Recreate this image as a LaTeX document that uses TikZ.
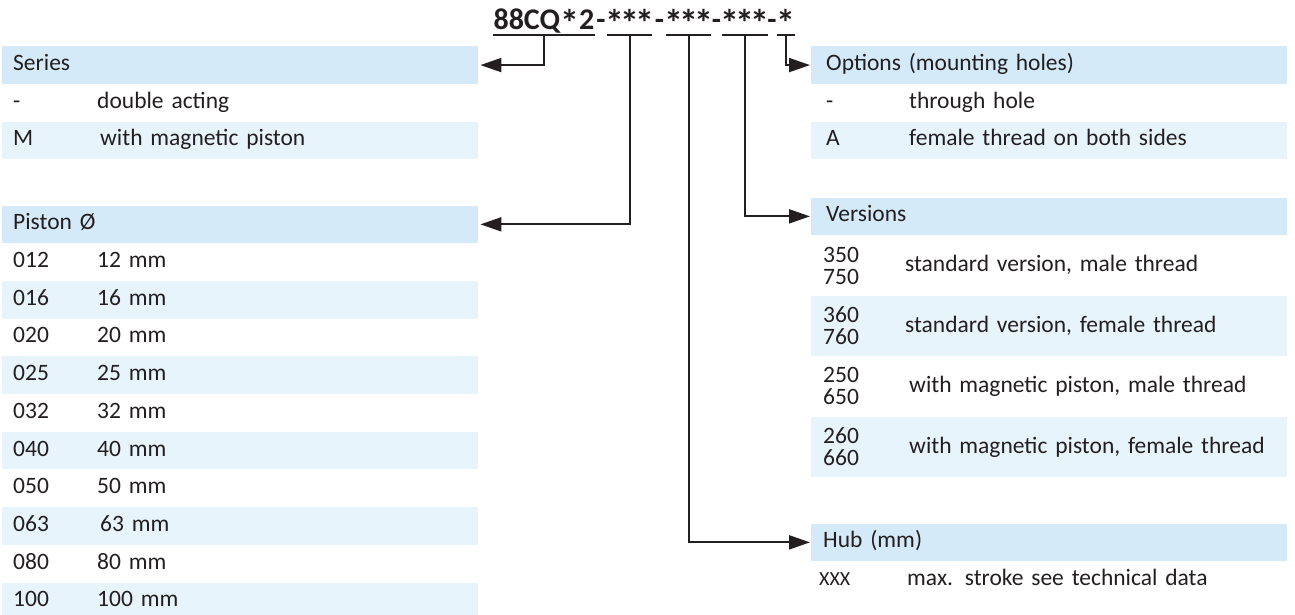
\documentclass[tikz,border=0pt]{standalone}
\usepackage{fontspec}
\setmainfont{Carlito}
\usetikzlibrary{arrows.meta,calc}
\definecolor{ink}{RGB}{35,31,32}
\definecolor{hdrblue}{RGB}{213,234,249}
\definecolor{rowblue}{RGB}{232,244,252}
\newcommand\sterngl{{\fontsize{38}{38}\selectfont\raisebox{-7pt}{*}}}
\newcommand\stern{\makebox[15pt]{\sterngl}}
\newcommand\bigstern{\makebox[19pt]{\sterngl}}
\begin{document}
\begin{tikzpicture}[x=1pt,y=-1pt,
  band/.style={rectangle, anchor=north west, minimum width=476pt, inner ysep=0pt,
    align=left, text=ink, font=\fontsize{23.5}{22}\selectfont},
  one/.style={minimum height=37.7pt, text height=16pt, text depth=5pt},
  lcell/.style={band, one, inner xsep=11pt, text width=454pt},
  rcell/.style={band, one, inner xsep=15pt, text width=446pt},
  vcell/.style={band, minimum height=60.5pt, inner xsep=12pt, text width=452pt},
  hdr/.style={fill=hdrblue},
  alt/.style={fill=rowblue},
  ttl/.style={inner sep=0pt, text=ink, font=\fontsize{30}{32}\selectfont\bfseries, text height=21pt, text depth=0pt},
  uline/.style={draw=ink, line width=2pt},
  conn/.style={draw=ink, line width=2pt, -{Triangle[length=21pt,width=14pt]}}
]
\useasboundingbox (0,0) rectangle (1295,614);
\clip (0,0) rectangle (1295,614);

% ---- title code ----
\node[ttl, anchor=base, minimum width=102pt] (t0) at (544,29) {88CQ\bigstern2};
\node[ttl, anchor=base] (d1) at (601,29) {-};
\node[ttl, anchor=base, minimum width=45pt] (t1) at (629.5,29) {\stern\stern\stern};
\node[ttl, anchor=base] (d2) at (659.5,29) {-};
\node[ttl, anchor=base, minimum width=43pt] (t2) at (688.5,29) {\stern\stern\stern};
\node[ttl, anchor=base] (d3) at (716.5,29) {-};
\node[ttl, anchor=base, minimum width=44pt] (t3) at (745,29) {\stern\stern\stern};
\node[ttl, anchor=base] (d4) at (772,29) {-};
\node[ttl, anchor=base, minimum width=18pt] (t4) at (786,29) {\stern};
\foreach \n in {t0,t1,t2,t3,t4}
  \draw[uline] ($(\n.south west)+(0,6)$) -- ($(\n.south east)+(0,6)$);

% ---- left: series ----
\node[lcell, hdr] (ser) at (2,46) {Series};
\node[lcell] (ser1) at (2,83.7) {\makebox[84pt][l]{-}double acting};
\node[lcell, alt] (ser2) at (2,121.4) {\makebox[84pt][l]{M}\hspace{3pt}with magnetic piston};

% ---- left: piston ----
\node[lcell, hdr] (pis) at (2,205.3) {Piston Ø};
\node[lcell] (p1) at (2,243) {\makebox[84pt][l]{012}12 mm};
\node[lcell, alt] (p2) at (2,280.7) {\makebox[84pt][l]{016}16 mm};
\node[lcell] (p3) at (2,318.4) {\makebox[84pt][l]{020}20 mm};
\node[lcell, alt] (p4) at (2,356.1) {\makebox[84pt][l]{025}25 mm};
\node[lcell] (p5) at (2,393.8) {\makebox[84pt][l]{032}32 mm};
\node[lcell, alt] (p6) at (2,431.5) {\makebox[84pt][l]{040}40 mm};
\node[lcell] (p7) at (2,469.2) {\makebox[84pt][l]{050}50 mm};
\node[lcell, alt] (p8) at (2,506.9) {\makebox[84pt][l]{063}\hspace{3pt}63 mm};
\node[lcell] (p9) at (2,544.6) {\makebox[84pt][l]{080}80 mm};
\node[lcell, alt] (p10) at (2,582.3) {\makebox[84pt][l]{100}100 mm};

% ---- right: options ----
\node[rcell, hdr] (opt) at (811,46) {Options (mounting holes)};
\node[rcell] (o1) at (811,83.7) {\makebox[83pt][l]{-}through hole};
\node[rcell, alt] (o2) at (811,121.4) {\makebox[83pt][l]{A}female thread on both sides};

% ---- right: versions ----
\node[rcell, hdr] (ver) at (811,197.3) {Versions};
\node[vcell] (v1) at (811,235) {\parbox[c]{82pt}{350\\750}standard version, male thread};
\node[vcell, alt] (v2) at (811,295.5) {\parbox[c]{82pt}{360\\760}standard version, female thread};
\node[vcell] (v3) at (811,356) {\parbox[c]{86pt}{250\\650}with magnetic piston, male thread};
\node[vcell, alt] (v4) at (811,416.5) {\parbox[c]{86pt}{260\\660}with magnetic piston, female thread};

% ---- right: hub ----
\node[band, one, hdr, inner xsep=12pt, text width=452pt] (hub) at (811,523.3) {Hub (mm)};
\node[band, one, inner xsep=8pt, text width=460pt] (h1) at (811,561) {\makebox[88pt][l]{\fontsize{20}{22}\selectfont XXX}max. stroke see technical data};

% ---- connectors ----
\draw[conn] ($(t0.south)+(0,6)$) |- ([xshift=2pt]ser.east);
\draw[conn] ($(t1.south)+(0,6)$) |- ([xshift=2pt]pis.east);
\draw[conn] ($(t2.south)+(0,6)$) |- ([xshift=-1pt]hub.west);
\draw[conn] ($(t3.south)+(0,6)$) |- ([xshift=-1pt]ver.west);
\draw[conn] ($(t4.south)+(0,6)$) |- ([xshift=-1pt]opt.west);
\end{tikzpicture}
\end{document}
